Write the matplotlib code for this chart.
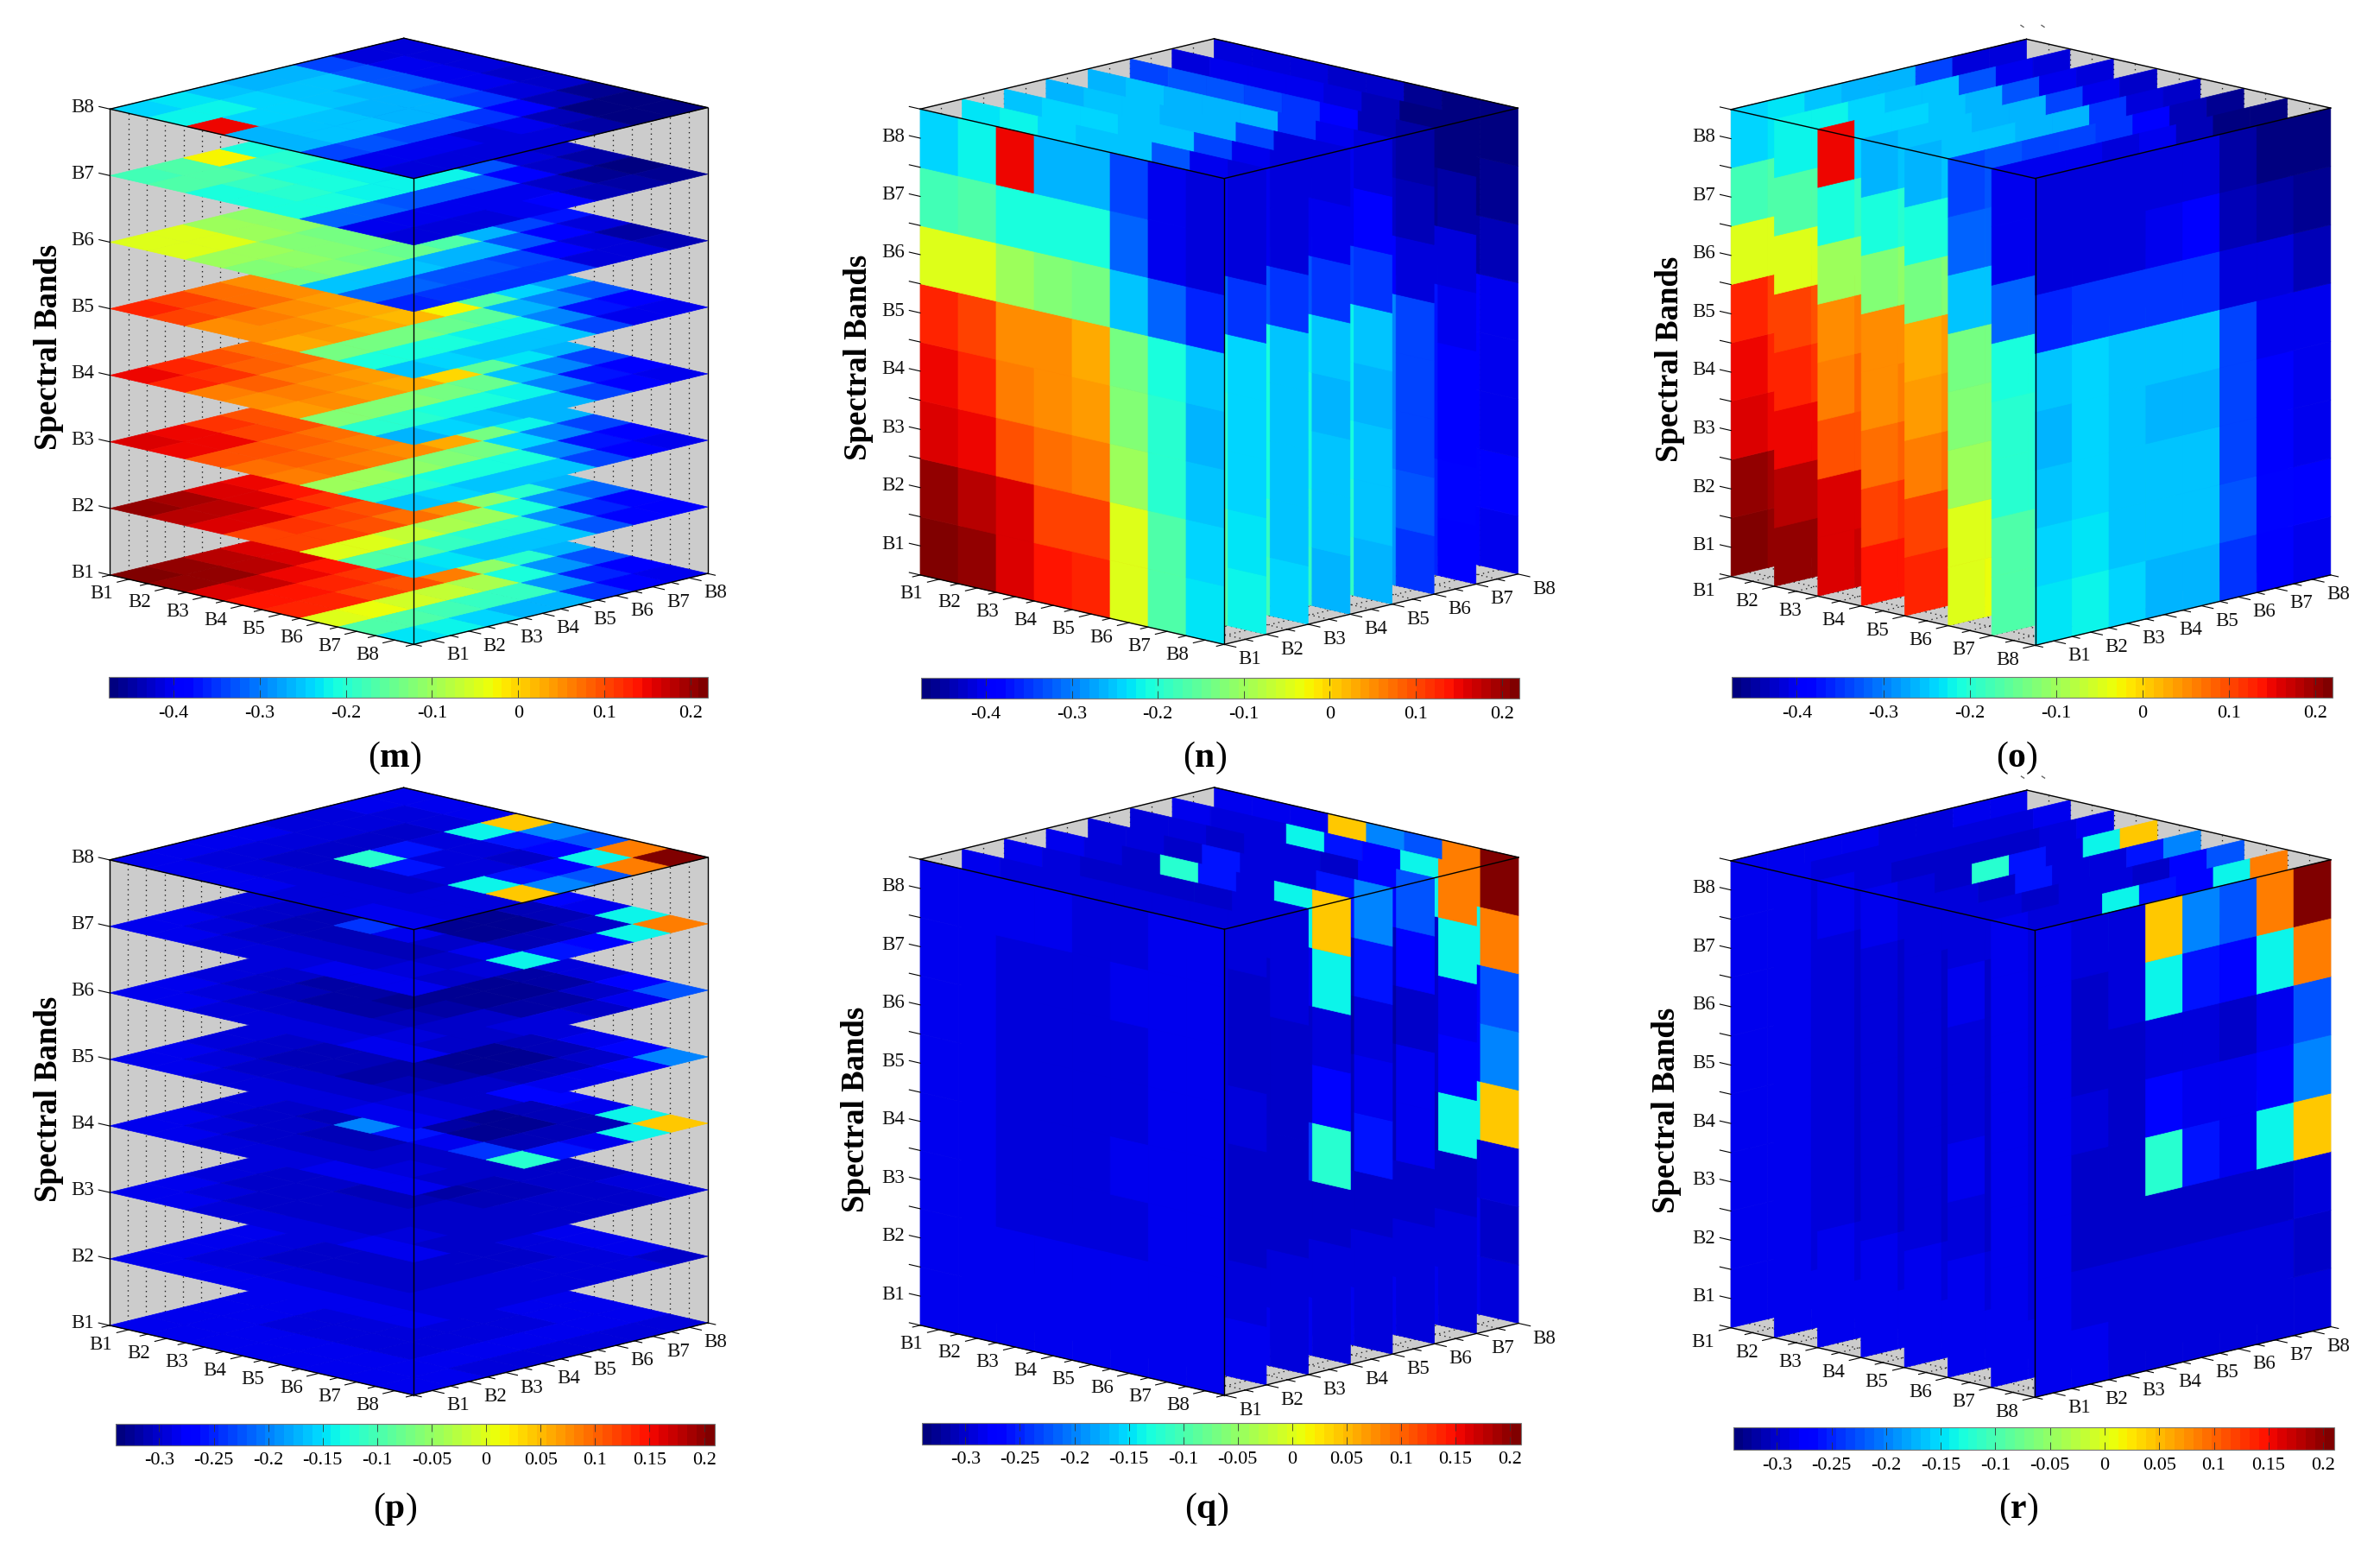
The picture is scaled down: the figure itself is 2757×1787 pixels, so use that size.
import numpy as np
import matplotlib
matplotlib.use('Agg')
import matplotlib.pyplot as plt
from matplotlib.collections import PolyCollection
from matplotlib.cm import ScalarMappable
from matplotlib.colors import Normalize

plt.rcParams['font.family'] = ['Liberation Serif', 'DejaVu Serif']
plt.rcParams['mathtext.fontset'] = 'custom'
plt.rcParams['mathtext.rm'] = 'Liberation Serif'
plt.rcParams['mathtext.bf'] = 'Liberation Serif:bold'

bands = ['B1', 'B2', 'B3', 'B4', 'B5', 'B6', 'B7', 'B8']

# first cube (m, n, o): one 8x8 table per spectral band
a_b1 = [[.22, .205, .185, .16, .145, -.05, -.17, -.24],
        [.205, .20, .18, .155, .14, -.05, -.17, -.23],
        [.16, .175, .15, .14, .12, -.07, -.18, -.24],
        [.14, .14, .13, .115, .105, -.08, -.19, -.26],
        [.125, .13, .11, .095, .06, -.11, -.20, -.26],
        [-.05, -.04, -.06, -.07, -.09, -.21, -.28, -.33],
        [-.17, -.165, -.18, -.19, -.19, -.28, -.36, -.39],
        [-.235, -.22, -.24, -.265, -.265, -.345, -.39, -.40]]
a_b2 = [[.205, .19, .165, .145, .125, -.05, -.17, -.24],
        [.18, .18, .16, .14, .12, -.05, -.17, -.24],
        [.155, .155, .135, .12, .10, -.08, -.18, -.25],
        [.11, .12, .105, .09, .08, -.10, -.20, -.26],
        [.11, .11, .09, .07, .05, -.11, -.20, -.26],
        [-.05, -.05, -.07, -.09, -.10, -.21, -.28, -.32],
        [-.17, -.17, -.19, -.20, -.20, -.28, -.36, -.38],
        [-.24, -.235, -.25, -.255, -.255, -.33, -.385, -.395]]
a_b3 = [[.16, .15, .12, .10, .09, -.095, -.20, -.26],
        [.15, .145, .11, .095, .085, -.095, -.20, -.26],
        [.09, .10, .08, .07, .06, -.11, -.21, -.26],
        [.07, .08, .07, .06, .05, -.12, -.21, -.26],
        [.06, .075, .06, .05, .025, -.13, -.22, -.265],
        [-.095, -.095, -.11, -.12, -.13, -.24, -.30, -.34],
        [-.20, -.20, -.21, -.21, -.21, -.30, -.37, -.39],
        [-.255, -.24, -.255, -.255, -.255, -.34, -.39, -.40]]
a_b4 = [[.145, .13, .09, .07, .06, -.12, -.20, -.26],
        [.125, .12, .085, .07, .055, -.12, -.20, -.26],
        [.065, .08, .06, .055, .045, -.13, -.21, -.26],
        [.05, .06, .05, .04, .03, -.13, -.21, -.26],
        [.045, .055, .045, .035, .0, -.15, -.23, -.265],
        [-.12, -.12, -.125, -.13, -.14, -.25, -.30, -.34],
        [-.20, -.20, -.21, -.21, -.215, -.30, -.37, -.39],
        [-.26, -.245, -.255, -.26, -.26, -.34, -.39, -.40]]
a_b5 = [[.125, .11, .07, .055, .045, -.13, -.21, -.26],
        [.11, .09, .07, .055, .045, -.13, -.21, -.26],
        [.055, .065, .05, .045, .035, -.14, -.22, -.265],
        [.05, .05, .04, .03, .02, -.15, -.22, -.265],
        [.035, .045, .035, .02, -.02, -.17, -.24, -.27],
        [-.13, -.13, -.135, -.14, -.15, -.26, -.30, -.33],
        [-.205, -.205, -.21, -.22, -.225, -.30, -.37, -.39],
        [-.255, -.24, -.255, -.255, -.255, -.34, -.40, -.405]]
a_b6 = [[-.05, -.05, -.095, -.115, -.125, -.25, -.32, -.37],
        [-.05, -.05, -.095, -.115, -.125, -.25, -.32, -.37],
        [-.10, -.095, -.12, -.13, -.135, -.26, -.33, -.37],
        [-.12, -.115, -.125, -.135, -.14, -.26, -.33, -.37],
        [-.13, -.125, -.135, -.14, -.165, -.26, -.34, -.37],
        [-.25, -.25, -.255, -.26, -.265, -.33, -.39, -.42],
        [-.32, -.32, -.33, -.33, -.34, -.39, -.42, -.45],
        [-.36, -.35, -.35, -.35, -.35, -.41, -.42, -.44]]
a_b7 = [[-.18, -.17, -.02, -.21, -.21, -.32, -.40, -.42],
        [-.17, -.165, -.19, -.20, -.205, -.32, -.40, -.42],
        [-.21, -.19, -.21, -.215, -.215, -.33, -.40, -.42],
        [-.21, -.20, -.21, -.215, -.22, -.33, -.40, -.42],
        [-.21, -.205, -.215, -.22, -.22, -.33, -.41, -.43],
        [-.32, -.32, -.33, -.33, -.33, -.39, -.43, -.45],
        [-.40, -.40, -.40, -.40, -.40, -.43, -.46, -.47],
        [-.42, -.41, -.41, -.40, -.39, -.44, -.45, -.46]]
a_b8 = [[-.24, -.235, -.25, -.26, -.26, -.34, -.41, -.42],
        [-.225, -.22, -.24, -.25, -.25, -.33, -.40, -.42],
        [.145, -.24, -.24, -.25, -.26, -.33, -.40, -.42],
        [-.26, -.25, -.25, -.26, -.26, -.34, -.40, -.43],
        [-.26, -.25, -.255, -.26, -.26, -.35, -.41, -.43],
        [-.34, -.33, -.34, -.34, -.35, -.39, -.44, -.46],
        [-.40, -.40, -.40, -.41, -.40, -.44, -.47, -.47],
        [-.42, -.42, -.42, -.42, -.41, -.45, -.47, -.47]]

# second cube (p, q, r)
b_b1 = [[-.285, -.285, -.285, -.285, -.285, -.285, -.285, -.285],
        [-.285, -.285, -.285, -.285, -.285, -.285, -.285, -.285],
        [-.285, -.285, -.29, -.29, -.29, -.29, -.285, -.285],
        [-.285, -.285, -.29, -.29, -.29, -.29, -.285, -.285],
        [-.285, -.285, -.29, -.29, -.29, -.29, -.285, -.285],
        [-.285, -.285, -.29, -.29, -.29, -.29, -.285, -.285],
        [-.285, -.285, -.285, -.285, -.285, -.285, -.285, -.285],
        [-.285, -.285, -.29, -.29, -.29, -.29, -.29, -.29]]
b_b2 = [[-.285, -.285, -.285, -.285, -.285, -.285, -.285, -.285],
        [-.285, -.29, -.295, -.295, -.295, -.295, -.29, -.285],
        [-.285, -.295, -.30, -.30, -.30, -.30, -.295, -.285],
        [-.285, -.295, -.30, -.30, -.30, -.30, -.295, -.285],
        [-.285, -.295, -.30, -.30, -.305, -.30, -.295, -.285],
        [-.285, -.295, -.30, -.30, -.30, -.30, -.295, -.285],
        [-.285, -.29, -.295, -.295, -.295, -.295, -.29, -.285],
        [-.285, -.295, -.295, -.295, -.295, -.295, -.295, -.30]]
b_b3 = [[-.285, -.285, -.29, -.29, -.29, -.29, -.285, -.285],
        [-.285, -.295, -.30, -.30, -.30, -.30, -.295, -.29],
        [-.29, -.30, -.30, -.305, -.305, -.30, -.30, -.295],
        [-.29, -.30, -.305, -.31, -.31, -.305, -.30, -.295],
        [-.29, -.30, -.305, -.31, -.315, -.31, -.305, -.30],
        [-.29, -.30, -.30, -.305, -.31, -.31, -.305, -.30],
        [-.285, -.295, -.30, -.30, -.305, -.305, -.30, -.295],
        [-.285, -.30, -.305, -.305, -.305, -.305, -.305, -.295]]
b_b4 = [[-.285, -.285, -.29, -.29, -.29, -.285, -.28, -.28],
        [-.285, -.295, -.30, -.30, -.30, -.30, -.29, -.285],
        [-.29, -.30, -.305, -.31, -.31, -.305, -.30, -.29],
        [-.29, -.30, -.31, -.20, -.26, -.28, -.24, -.12],
        [-.29, -.30, -.31, -.26, -.32, -.325, -.31, -.27],
        [-.285, -.30, -.305, -.28, -.325, -.325, -.31, -.28],
        [-.28, -.29, -.30, -.24, -.31, -.31, -.31, -.135],
        [-.285, -.30, -.30, -.12, -.26, -.28, -.135, .042]]
b_b5 = [[-.285, -.285, -.29, -.29, -.29, -.29, -.285, -.285],
        [-.285, -.295, -.30, -.30, -.305, -.30, -.295, -.29],
        [-.29, -.30, -.31, -.31, -.315, -.31, -.30, -.29],
        [-.29, -.30, -.31, -.31, -.32, -.315, -.30, -.29],
        [-.29, -.305, -.315, -.32, -.325, -.325, -.31, -.29],
        [-.29, -.30, -.31, -.315, -.325, -.325, -.31, -.28],
        [-.285, -.295, -.30, -.30, -.31, -.31, -.30, -.265],
        [-.285, -.295, -.30, -.27, -.285, -.285, -.275, -.20]]
b_b6 = [[-.285, -.285, -.29, -.29, -.29, -.29, -.285, -.285],
        [-.285, -.295, -.30, -.305, -.305, -.30, -.295, -.29],
        [-.29, -.30, -.31, -.315, -.315, -.31, -.30, -.29],
        [-.29, -.305, -.315, -.32, -.325, -.32, -.305, -.29],
        [-.29, -.305, -.315, -.325, -.33, -.33, -.315, -.295],
        [-.29, -.30, -.31, -.32, -.33, -.33, -.315, -.29],
        [-.285, -.295, -.30, -.305, -.315, -.315, -.30, -.275],
        [-.285, -.30, -.30, -.29, -.295, -.30, -.285, -.225]]
b_b7 = [[-.285, -.285, -.29, -.29, -.29, -.29, -.285, -.285],
        [-.285, -.295, -.30, -.30, -.30, -.30, -.29, -.285],
        [-.29, -.30, -.31, -.31, -.31, -.31, -.30, -.285],
        [-.29, -.30, -.31, -.24, -.28, -.30, -.28, -.135],
        [-.29, -.30, -.31, -.285, -.325, -.33, -.31, -.27],
        [-.285, -.30, -.31, -.30, -.33, -.33, -.31, -.28],
        [-.28, -.29, -.30, -.285, -.31, -.31, -.30, -.14],
        [-.285, -.30, -.29, -.135, -.26, -.27, -.14, .086]]
b_b8 = [[-.285, -.285, -.285, -.285, -.29, -.29, -.285, -.285],
        [-.285, -.29, -.295, -.295, -.295, -.295, -.29, -.285],
        [-.285, -.295, -.30, -.30, -.30, -.30, -.295, -.285],
        [-.285, -.295, -.30, -.12, -.26, -.29, -.135, .042],
        [-.29, -.295, -.30, -.26, -.29, -.295, -.26, -.20],
        [-.29, -.295, -.30, -.29, -.295, -.30, -.27, -.225],
        [-.285, -.29, -.295, -.135, -.26, -.27, -.135, .086],
        [-.285, -.29, -.29, .042, -.20, -.225, .086, .21]]

cube_a = [a_b1, a_b2, a_b3, a_b4, a_b5, a_b6, a_b7, a_b8]
cube_b = [b_b1, b_b2, b_b3, b_b4, b_b5, b_b6, b_b7, b_b8]

range_a = (-.475, .22)
range_b = (-.34, .21)
ticks_a = [-.4, -.3, -.2, -.1, 0, .1, .2]
ticklabels_a = ['-0.4', '-0.3', '-0.2', '-0.1', '0', '0.1', '0.2']
ticks_b = [-.3, -.25, -.2, -.15, -.1, -.05, 0, .05, .1, .15, .2]
ticklabels_b = ['-0.3', '-0.25', '-0.2', '-0.15', '-0.1', '-0.05', '0', '0.05', '0.1', '0.15', '0.2']

W, H = 2757, 1787
jet = plt.get_cmap('jet', 64)

# layout in pixels: left, front and right floor corners, cube height,
# colorbar box, y label position, letter position
panels = [
    dict(name='m', view='z', cube=cube_a, L=(127.4, 665.9), F=(479.3, 746.3), R=(819.7, 664.2), h=539.6,
         bar=(126.3, 819.7, 783.6, 808.3), yl=(57, 402), let=(457.5, 878)),
    dict(name='n', view='v', cube=cube_a, L=(1066, 665.9), F=(1418, 746.3), R=(1758.4, 664.8), h=539.6,
         bar=(1067.2, 1759.5, 784.7, 809.4), yl=(994, 414), let=(1396, 878)),
    dict(name='o', view='u', cube=cube_a, L=(2005.2, 667.6), F=(2357.5, 747.4), R=(2699.8, 665.9), h=540.8,
         bar=(2006.4, 2702, 783.6, 808.3), yl=(1934, 416), let=(2336.5, 878)),
    dict(name='p', view='z', cube=cube_b, L=(126.9, 1535), F=(479.3, 1615.7), R=(820, 1532), h=539.1,
         bar=(133.9, 828.2, 1649, 1674), yl=(57, 1273), let=(458, 1748)),
    dict(name='q', view='v', cube=cube_b, L=(1066, 1534.8), F=(1418.3, 1615.8), R=(1759, 1532.5), h=539.6,
         bar=(1068, 1761.6, 1648.2, 1672.5), yl=(991.5, 1285), let=(1398, 1748)),
    dict(name='r', view='u', cube=cube_b, L=(2005, 1537.7), F=(2357, 1618.3), R=(2700, 1536.5), h=540.8,
         bar=(2007.7, 2703.7, 1653, 1679.3), yl=(1931, 1286), let=(2338, 1748)),
]

fig = plt.figure(figsize=(W / 100, H / 100), dpi=100)
ax = fig.add_axes([0, 0, 1, 1])
ax.set_xlim(0, W)
ax.set_ylim(H, 0)
ax.axis('off')

GREY = '#cccccc'


def draw_panel(p):
    L, F, R = np.array(p['L']), np.array(p['F']), np.array(p['R'])
    du, dv = F - L, R - F
    up = np.array([0, -p['h']])

    def pt(u, v, z):
        return L + u * du + v * dv + z * up

    vmin, vmax = range_a if p['cube'] is cube_a else range_b
    norm = Normalize(vmin, vmax)
    vals = np.array(p['cube'])  # band, i, j
    z_order = 2

    # grey walls and floor
    walls = [[pt(0, 0, 0), pt(0, 1, 0), pt(0, 1, 1), pt(0, 0, 1)],
             [pt(0, 1, 0), pt(1, 1, 0), pt(1, 1, 1), pt(0, 1, 1)],
             [pt(0, 0, 0), pt(1, 0, 0), pt(1, 1, 0), pt(0, 1, 0)]]
    ax.add_collection(PolyCollection(walls, facecolors=GREY, edgecolors=GREY, linewidths=.5, zorder=1))

    u_ticks = np.arange(0, 1.001, 1 / 16)
    v_ticks = np.arange(0, 1.001, 1 / 16)
    if p['view'] == 'v':
        v_ticks = np.arange(0, 1.001, 1 / 14)
    if p['view'] == 'u':
        u_ticks = np.arange(0, 1.001, 1 / 14)
    dots = dict(color='#222222', lw=.95, ls=(0, (1.1, 3.3)), zorder=1.5)
    for v in v_ticks[1:-1]:
        a, b = pt(0, v, 0), pt(0, v, 1)
        ax.plot([a[0], b[0]], [a[1], b[1]], **dots)
        a, b = pt(0, v, 0), pt(1, v, 0)
        ax.plot([a[0], b[0]], [a[1], b[1]], **dots)
    for u in u_ticks[1:-1]:
        a, b = pt(u, 1, 0), pt(u, 1, 1)
        ax.plot([a[0], b[0]], [a[1], b[1]], **dots)
        a, b = pt(u, 0, 0), pt(u, 1, 0)
        ax.plot([a[0], b[0]], [a[1], b[1]], **dots)

    # the slices, back to front
    if p['view'] == 'v':
        order = range(7, -1, -1)
    else:
        order = range(8)
    for s in order:
        polys, cols = [], []
        for x in range(8):
            for y in range(8):
                if p['view'] == 'z':
                    z = s / 7
                    polys.append([pt(x / 8, y / 8, z), pt((x + 1) / 8, y / 8, z),
                                  pt((x + 1) / 8, (y + 1) / 8, z), pt(x / 8, (y + 1) / 8, z)])
                    cols.append(vals[s, x, y])
                elif p['view'] == 'v':
                    # x along u, y along band
                    v = s / 7
                    polys.append([pt(x / 8, v, y / 8), pt((x + 1) / 8, v, y / 8),
                                  pt((x + 1) / 8, v, (y + 1) / 8), pt(x / 8, v, (y + 1) / 8)])
                    cols.append(vals[y, x, s])
                else:
                    u = s / 7
                    polys.append([pt(u, x / 8, y / 8), pt(u, (x + 1) / 8, y / 8),
                                  pt(u, (x + 1) / 8, (y + 1) / 8), pt(u, x / 8, (y + 1) / 8)])
                    cols.append(vals[y, s, x])
        pc = PolyCollection(polys, array=np.array(cols), cmap=jet, norm=norm,
                            edgecolors='face', linewidths=.5, zorder=z_order)
        ax.add_collection(pc)
        z_order += 1

    # box edges
    box = [(pt(0, 0, 1), pt(1, 0, 1)), (pt(1, 0, 1), pt(1, 1, 1)), (pt(1, 1, 1), pt(0, 1, 1)),
           (pt(0, 1, 1), pt(0, 0, 1)), (pt(1, 0, 0), pt(1, 0, 1)), (pt(0, 0, 0), pt(1, 0, 0)),
           (pt(1, 0, 0), pt(1, 1, 0))]
    if p['view'] == 'z':
        box += [(pt(0, 0, 0), pt(0, 0, 1)), (pt(1, 1, 0), pt(1, 1, 1))]
    for a, b in box:
        ax.plot([a[0], b[0]], [a[1], b[1]], color='k', lw=1.0, zorder=50)

    # tick marks and band labels along the three axes
    tick_u = -dv / np.linalg.norm(dv)
    tick_v = du / np.linalg.norm(du)
    tick_z = -du / np.linalg.norm(du)
    for n, u in enumerate(u_ticks):
        a = pt(u, 0, 0)
        major = n % 2 == (0 if p['view'] == 'u' else 1)
        b = a + tick_u * (14 if major else 9)
        ax.plot([a[0], b[0]], [a[1], b[1]], color='k', lw=.8, zorder=50)
    for n, v in enumerate(v_ticks):
        a = pt(1, v, 0)
        major = n % 2 == (0 if p['view'] == 'v' else 1)
        b = a + tick_v * (14 if major else 9)
        ax.plot([a[0], b[0]], [a[1], b[1]], color='k', lw=.8, zorder=50)

    for n, name in enumerate(bands):
        u = n / 7 if p['view'] == 'u' else (n + .5) / 8
        a = pt(u, 0, 0) + np.array([-32, 17])
        ax.text(a[0], a[1], name, fontsize=16.5, ha='center', va='center', color='#111111', zorder=60)
        v = n / 7 if p['view'] == 'v' else (n + .5) / 8
        a = pt(1, v, 0) + np.array([30, 17.5])
        ax.text(a[0], a[1], name, fontsize=16.5, ha='center', va='center', color='#111111', zorder=60)

    if p['view'] == 'z':
        z_major = [n / 7 for n in range(8)]
        z_minor = []
    else:
        z_major = [(n + .5) / 8 for n in range(8)]
        z_minor = [n / 8 for n in range(9)]
    for n, z in enumerate(z_major):
        a = pt(0, 0, z)
        b = a + tick_z * 13
        ax.plot([a[0], b[0]], [a[1], b[1]], color='k', lw=.8, zorder=50)
        ax.text(a[0] - 18, a[1] - 2, bands[n], fontsize=16.5, ha='right', va='center', color='#111111', zorder=60)
    for z in z_minor:
        a = pt(0, 0, z)
        b = a + tick_z * 13
        ax.plot([a[0], b[0]], [a[1], b[1]], color='k', lw=.8, zorder=50)

    ax.text(p['yl'][0], p['yl'][1], 'Spectral Bands', rotation=90, fontsize=26.5, fontweight='bold',
            ha='center', va='center', zorder=60)
    ax.text(p['let'][0], p['let'][1], '(' + r'$\mathbf{' + p['name'] + '}$' + ')', fontsize=30,
            ha='center', va='center', zorder=60)

    # stray tick ends above the o and r cubes
    if p['view'] == 'u':
        top = pt(0, 1, 1)
        for dx in (-5, 19):
            ax.plot([top[0] + dx - 1.5, top[0] + dx + 1.5], [top[1] - 16, top[1] - 14], color='#666666', lw=1, zorder=60)

    # colorbar
    x0, x1, y0, y1 = p['bar']
    cax = fig.add_axes([x0 / W, 1 - y1 / H, (x1 - x0) / W, (y1 - y0) / H])
    sm = ScalarMappable(norm=norm, cmap=jet)
    cb = fig.colorbar(sm, cax=cax, orientation='horizontal', drawedges=False)
    if p['cube'] is cube_a:
        cb.set_ticks(ticks_a, labels=ticklabels_a)
    else:
        cb.set_ticks(ticks_b, labels=ticklabels_b)
    cb.minorticks_off()
    cax.tick_params(axis='x', direction='in', length=6.5, width=.6, top=True, bottom=True,
                    labelsize=16, pad=6, color='#333333')
    cb.outline.set_linewidth(.8)
    cb.outline.set_edgecolor('#777777')


for p in panels:
    draw_panel(p)

plt.savefig('out.png', dpi=100)
